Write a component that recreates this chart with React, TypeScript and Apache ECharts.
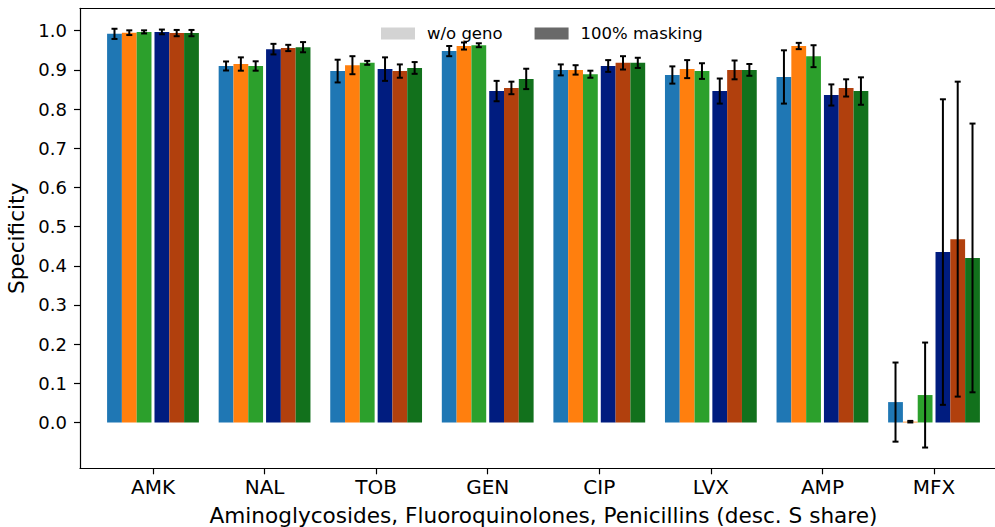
import { useEffect, useRef } from "react";
import * as echarts from "echarts";

// Antibiotics on the x axis
const categories = ["AMK", "NAL", "TOB", "GEN", "CIP", "LVX", "AMP", "MFX"];
const yTickValues = [0, 0.1, 0.2, 0.3, 0.4, 0.5, 0.6, 0.7, 0.8, 0.9, 1.0];

// Mean specificity without genotype input (three models)
const noGenoA = [0.992, 0.91, 0.897, 0.948, 0.9, 0.887, 0.882, 0.052];
const noGenoB = [0.995, 0.915, 0.912, 0.961, 0.9, 0.902, 0.961, 0.002];
const noGenoC = [0.997, 0.91, 0.918, 0.963, 0.889, 0.897, 0.935, 0.07];
// Mean specificity with 100% masking (three models)
const maskedA = [0.997, 0.953, 0.902, 0.846, 0.91, 0.846, 0.836, 0.435];
const maskedB = [0.994, 0.956, 0.897, 0.854, 0.918, 0.9, 0.854, 0.468];
const maskedC = [0.994, 0.958, 0.905, 0.877, 0.918, 0.9, 0.846, 0.42];

// Standard deviations (error bar half-widths)
const noGenoAErr = [0.013, 0.0115, 0.029, 0.013, 0.014, 0.022, 0.068, 0.101];
const noGenoBErr = [0.006, 0.017, 0.023, 0.009, 0.012, 0.023, 0.008, 0.002];
const noGenoCErr = [0.004, 0.012, 0.005, 0.005, 0.009, 0.02, 0.028, 0.134];
const maskedAErr = [0.006, 0.0135, 0.03, 0.026, 0.015, 0.032, 0.027, 0.39];
const maskedBErr = [0.008, 0.008, 0.017, 0.016, 0.017, 0.024, 0.022, 0.402];
const maskedCErr = [0.008, 0.013, 0.015, 0.026, 0.013, 0.015, 0.035, 0.343];

const legendNames = ["w/o geno", "100% masking"];

const FONT = "DejaVu Sans";
const BAR_W = 14.8;
const GROUP_GAP = 3;
const CAP = 3;
const Y_MIN = -0.117;
const Y_MAX = 1.057;
const FRAME = { color: "#000", width: 1.2 };

type Bar = { name: string; values: number[]; errs: number[]; color: string };

const bars: Bar[] = [
  { name: "noGenoA", values: noGenoA, errs: noGenoAErr, color: "#1f77b4" },
  { name: "noGenoB", values: noGenoB, errs: noGenoBErr, color: "#ff7f0e" },
  { name: "noGenoC", values: noGenoC, errs: noGenoCErr, color: "#2ca02c" },
  { name: "maskedA", values: maskedA, errs: maskedAErr, color: "#001c7f" },
  { name: "maskedB", values: maskedB, errs: maskedBErr, color: "#b1400d" },
  { name: "maskedC", values: maskedC, errs: maskedCErr, color: "#12711c" },
];

// Horizontal offset of each bar's centre from its category centre
function slotOffset(j: number): number {
  const total = 6 * BAR_W + GROUP_GAP;
  const left = -total / 2 + j * BAR_W + (j >= 3 ? GROUP_GAP : 0);
  return left + BAR_W / 2;
}

function errorBarRenderer(offset: number) {
  return (_params: any, api: any) => {
    const cat = api.value(0);
    const lo = api.coord([cat, api.value(1)]);
    const hi = api.coord([cat, api.value(2)]);
    const x = lo[0] + offset;
    const style = { stroke: "#000", lineWidth: 2 };
    return {
      type: "group",
      children: [
        { type: "line", shape: { x1: x, y1: lo[1], x2: x, y2: hi[1] }, style },
        { type: "line", shape: { x1: x - CAP, y1: lo[1], x2: x + CAP, y2: lo[1] }, style },
        { type: "line", shape: { x1: x - CAP, y1: hi[1], x2: x + CAP, y2: hi[1] }, style },
      ],
    };
  };
}

export default function App() {
  const ref = useRef<HTMLDivElement>(null);

  useEffect(() => {
    document.body.style.margin = "0";
    if (!ref.current) return;
    const chart = echarts.init(ref.current, null, { renderer: "svg" });

    const barSeries: any[] = [];
    bars.forEach((b, j) => {
      if (j === 3) {
        // empty spacer separating the two groups of three
        barSeries.push({
          type: "bar",
          name: "spacer",
          xAxisIndex: 1,
          yAxisIndex: 1,
          barWidth: GROUP_GAP,
          barGap: "0%",
          data: categories.map(() => "-"),
          silent: true,
        });
      }
      barSeries.push({
        type: "bar",
        name: b.name,
        xAxisIndex: 1,
        yAxisIndex: 1,
        barWidth: BAR_W,
        barGap: "0%",
        itemStyle: { color: b.color },
        data: b.values,
        z: 2,
      });
    });

    const errSeries = bars.map((b, j) => ({
      type: "custom",
      name: b.name + "Err",
      xAxisIndex: 1,
      yAxisIndex: 1,
      z: 5,
      silent: true,
      encode: { x: 0, y: [1, 2] },
      renderItem: errorBarRenderer(slotOffset(j)),
      data: b.values.map((v, i) => [i, v - b.errs[i], v + b.errs[i]]),
    }));

    const legendSeries = [
      { color: "#d3d3d3", name: legendNames[0] },
      { color: "#696969", name: legendNames[1] },
    ].map((l) => ({
      type: "line",
      name: l.name,
      xAxisIndex: 0,
      yAxisIndex: 0,
      data: [],
      itemStyle: { color: l.color },
      lineStyle: { color: l.color },
    }));

    chart.setOption({
      animation: false,
      textStyle: { fontFamily: FONT },
      legend: {
        data: legendNames,
        left: 381,
        top: 25,
        icon: "rect",
        itemWidth: 34,
        itemHeight: 12,
        itemGap: 32,
        padding: 0,
        selectedMode: false,
        textStyle: { fontFamily: FONT, fontSize: 16.5, color: "#000", padding: [0, 0, 0, 7] },
      },
      grid: [
        // framed plotting area (open on the right, where it runs past the edge)
        { left: 80, right: -12, top: 8.4, bottom: 58.7, outerBoundsMode: "none" },
        // band area holding the bars
        { left: 97.2, right: 5.2, top: 8.4, bottom: 58.7, outerBoundsMode: "none" },
      ],
      xAxis: [
        {
          type: "value",
          gridIndex: 0,
          position: "bottom",
          min: 0,
          max: 1,
          axisLine: { show: true, onZero: false, lineStyle: FRAME },
          axisTick: { show: false },
          axisLabel: { show: false },
          splitLine: { show: false },
          name: "Aminoglycosides, Fluoroquinolones, Penicillins (desc. S share)",
          nameLocation: "middle",
          nameGap: 36,
          nameTextStyle: { fontFamily: FONT, fontSize: 21.6, color: "#000" },
        },
        {
          type: "category",
          gridIndex: 1,
          data: categories,
          axisLine: { show: false, onZero: false },
          axisTick: { show: true, alignWithLabel: true, length: 6, lineStyle: FRAME },
          axisLabel: { fontFamily: FONT, fontSize: 20, color: "#000", margin: 9 },
        },
        {
          type: "value",
          gridIndex: 0,
          position: "top",
          min: 0,
          max: 1,
          axisLine: { show: true, onZero: false, lineStyle: FRAME },
          axisTick: { show: false },
          axisLabel: { show: false },
          splitLine: { show: false },
        },
      ],
      yAxis: [
        {
          type: "value",
          gridIndex: 0,
          min: Y_MIN,
          max: Y_MAX,
          axisLine: { show: true, onZero: false, lineStyle: FRAME },
          axisTick: {
            show: true,
            length: 6,
            customValues: yTickValues,
            lineStyle: FRAME,
          },
          axisLabel: {
            customValues: yTickValues,
            fontFamily: FONT,
            fontSize: 18,
            color: "#000",
            margin: 13,
            formatter: (v: number) => v.toFixed(1),
          },
          splitLine: { show: false },
          name: "Specificity",
          nameLocation: "middle",
          nameGap: 51,
          nameTextStyle: { fontFamily: FONT, fontSize: 21.6, color: "#000" },
        },
        {
          type: "value",
          gridIndex: 1,
          min: Y_MIN,
          max: Y_MAX,
          show: false,
        },
      ],
      series: [...barSeries, ...errSeries, ...legendSeries],
    });

    return () => chart.dispose();
  }, []);

  return <div ref={ref} style={{ width: 995, height: 527 }} />;
}
